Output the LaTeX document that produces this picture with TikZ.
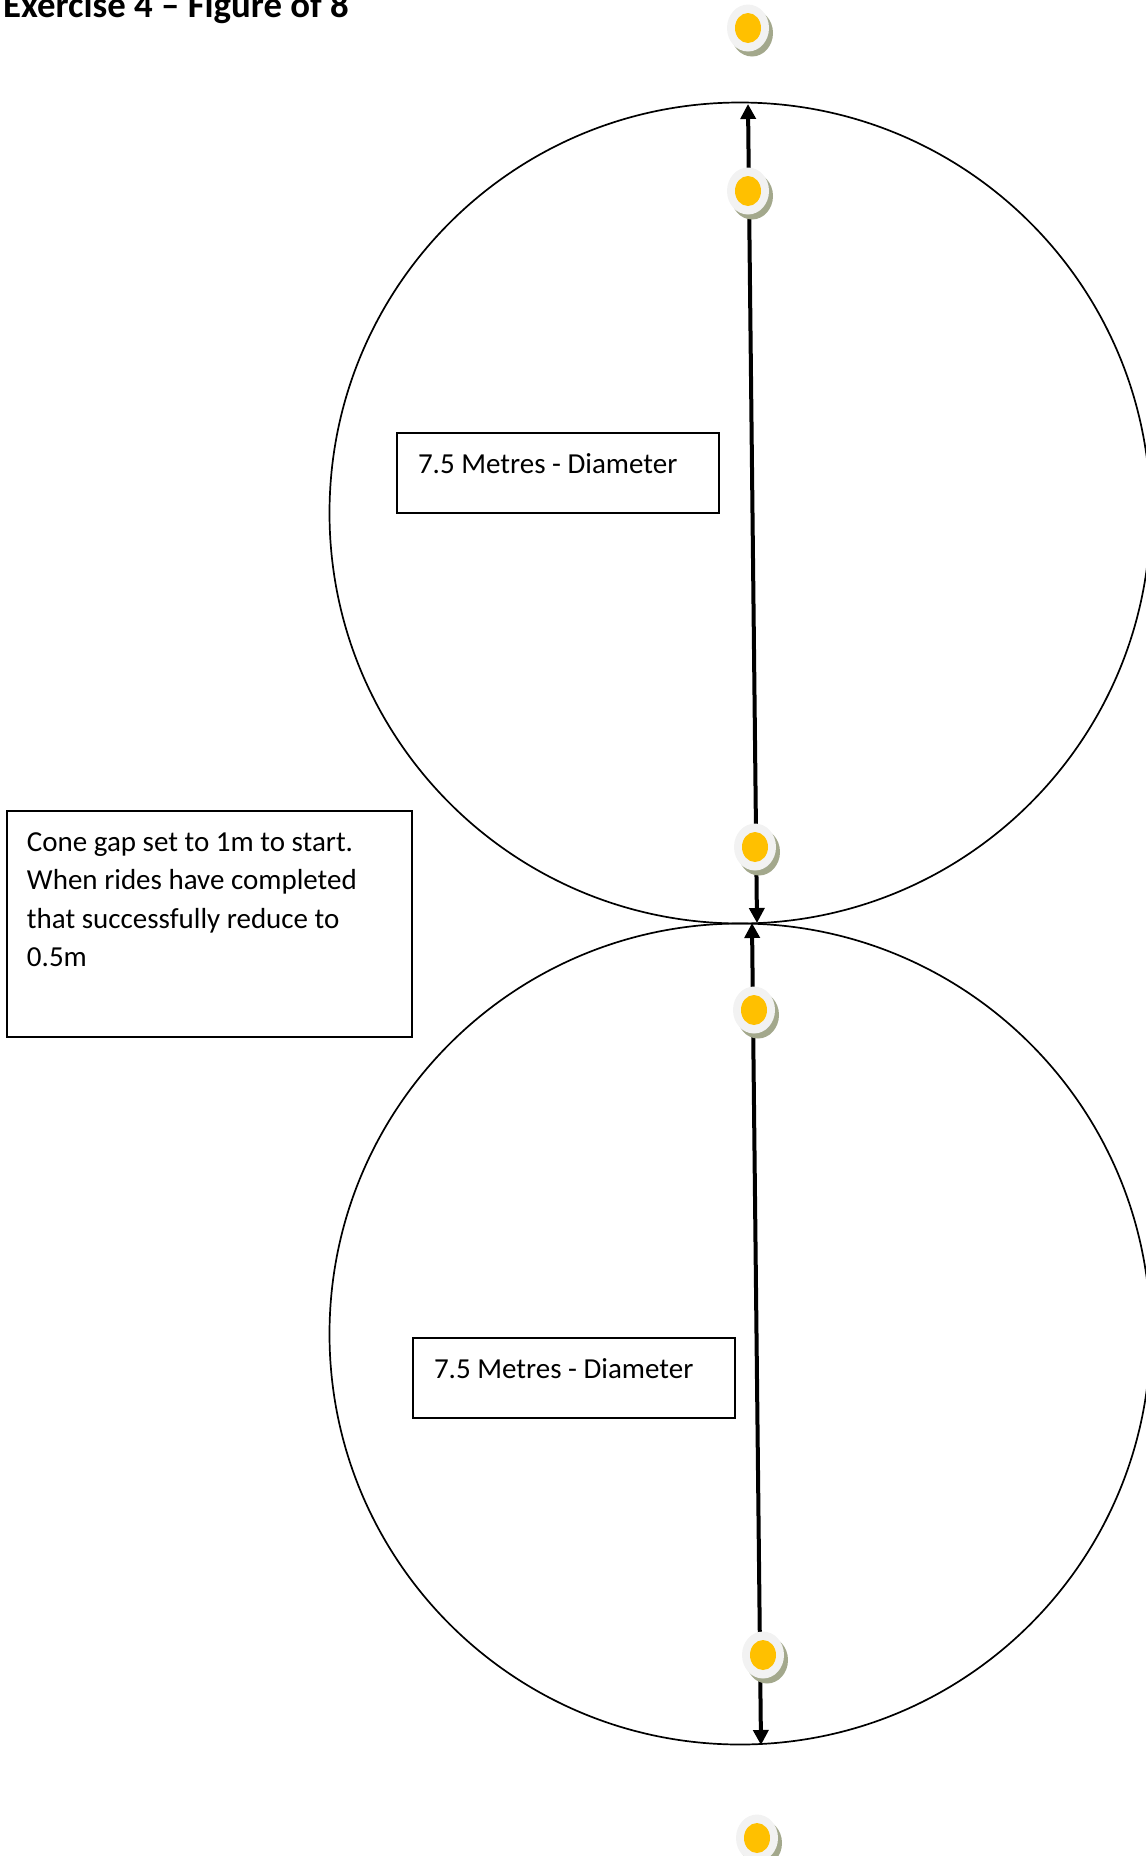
\documentclass[tikz,border=0pt]{standalone}
\usepackage{fontspec}
\setmainfont{Carlito}
\usepackage{tikz}
\usetikzlibrary{shapes,shadows,arrows.meta}
\definecolor{conegrey}{RGB}{242,242,242}
\definecolor{coneyellow}{RGB}{255,192,0}
\definecolor{coneshadow}{RGB}{163,168,140}
\tikzstyle{ring} = [circle, draw=black, line width=1.7pt, minimum size=821pt, inner sep=0pt]
\tikzstyle{notebox} = [rectangle, draw=black, line width=2pt, anchor=north west, align=flush left,
inner xsep=21pt, inner ysep=20pt, text height=20pt, font=\fontsize{29}{38.5}\selectfont]
\tikzstyle{cone} = [ellipse, fill=conegrey, minimum width=42pt, minimum height=47pt, inner sep=0pt,
drop shadow={shadow xshift=4pt, shadow yshift=-5pt, fill=coneshadow, opacity=1},
path picture={\fill[coneyellow] (path picture bounding box.center) ellipse (13pt and 15pt);}]
\tikzstyle{runArrow} = [line width=4pt, {Triangle[length=15pt,width=15pt]}-{Triangle[length=15pt,width=15pt]}]

\begin{document}
\begin{tikzpicture}[x=1pt,y=-1pt]
		\useasboundingbox (0,0) rectangle (1146,1856);
		%title
		\node[anchor=base west, inner sep=0pt, font=\bfseries\fontsize{36.8}{44}\selectfont](title) at (3,17){Exercise 4 – Figure of 8};
		%circles
		\node[ring](topring) at (740,513){};
		\node[ring](botring) at (740,1334){};
		\coordinate (topapex) at (748,104);
		\coordinate (waistA) at (757,923);
		\coordinate (waistB) at (752,923);
		\coordinate (botapex) at (761,1745);
		%boxes
		\node[notebox, text width=280pt, text depth=20pt](topnote) at (396,432){7.5 Metres - Diameter};
		\node[notebox, text width=280pt, text depth=20pt](botnote) at (412,1337){7.5 Metres - Diameter};
		\node[notebox, text width=365pt, text depth=166pt, inner xsep=20pt](gapnote) at (6,810){Cone gap set to 1m to start.\\ When rides have completed\\ that successfully reduce to\\ 0.5m};
		%arrows
		\draw[runArrow](waistA)--(topapex);
		\draw[runArrow](waistB)--(botapex);
		%cones
		\node[cone](cone1) at (748,28){};
		\node[cone](cone2) at (748,191){};
		\node[cone](cone3) at (755,847){};
		\node[cone](cone4) at (754,1010){};
		\node[cone](cone5) at (763,1655){};
		\node[cone](cone6) at (757,1838){};
	\end{tikzpicture}
\end{document}
